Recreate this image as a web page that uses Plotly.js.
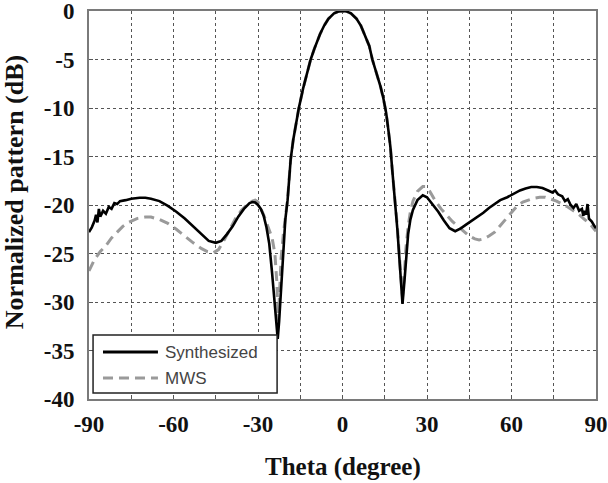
<!DOCTYPE html>
<html>
<head>
<meta charset="utf-8">
<script src="https://cdn.plot.ly/plotly-3.0.1.min.js"></script>
<style>
  html, body { margin: 0; padding: 0; background: #fff; }
  #chart { width: 608px; height: 483px; }
</style>
</head>
<body>
<div id="chart"></div>
<script>
// Synthesized radiation pattern (normalized, dB) versus theta (degrees)
const thetaSynth = [
  -90, -89, -88, -87.5, -87, -86.5, -86, -85, -84, -83, -82, -81, -80, -79, -77, -75,
  -72, -70, -68, -65, -62, -59, -56, -53, -50, -47.5, -45, -43, -41, -39, -37, -35,
  -33, -32, -31, -30, -29, -28, -27, -26, -25, -24, -23.5, -23.0, -22.5, -22, -21.5,
  -21, -20.3, -19.5, -19, -18.4, -17.5, -16.5, -15.5, -14, -12.5, -11.3, -10, -9, -8, -6.5, -5,
  -3, -1.5, 0, 1.5, 3, 5, 6.5, 8, 9.5, 10.6, 12, 13.5, 14.5, 15.5, 16.3, 17, 17.7,
  18.5, 19.5, 20.5, 21.3, 22, 22.5, 23.3, 24.1, 25, 26.6, 28.5, 30, 32, 34, 36, 38,
  40, 42, 44, 46, 48, 50, 52, 54, 56, 58.5, 61, 63, 65, 67, 69, 71, 73, 74.5, 75.5,
  76.5, 78, 79, 80, 81, 82, 83, 84, 85, 85.5, 86, 86.5, 87, 87.5, 88.5, 89.5, 90
];
const synthDb = [
  -22.8, -22.3, -21.6, -21.0, -21.8, -20.4, -21.2, -20.6, -20.9, -20.2, -20.4, -19.8, -19.9, -19.6, -19.5, -19.35,
  -19.25, -19.25, -19.35, -19.6, -20.1, -20.7, -21.4, -22.2, -23.0, -23.7, -23.9, -23.7, -23.0, -22.2, -21.2, -20.4,
  -19.8, -19.7, -19.75, -20.0, -20.4, -21.1, -22.3, -24.0, -27.0, -30.5, -32.5, -33.8, -32, -29.5, -26.5,
  -24.0, -21.5, -19.5, -17.5, -15.3, -13.3, -11.5, -10.0, -8.0, -6.2, -5.0, -3.9, -3.1, -2.4, -1.5, -0.8,
  -0.25, -0.05, 0, -0.05, -0.25, -0.8, -1.5, -2.5, -3.6, -5.0, -6.3, -7.8, -9.0, -10.5, -12.3, -14, -16.5,
  -19, -22.6, -26.8, -30.2, -27.8, -25.5, -23, -21.5, -20.5, -19.5, -19.0, -19.2, -19.9, -20.7, -21.6, -22.4,
  -22.7, -22.4, -22.0, -21.6, -21.2, -20.8, -20.3, -19.9, -19.5, -19.2, -18.8, -18.5, -18.3, -18.15, -18.15, -18.25, -18.5, -18.7, -18.5,
  -18.9, -19.1, -19.6, -19.4, -20.0, -20.3, -19.9, -20.6, -20.4, -21.1, -20.6, -21.0, -19.9, -21.4, -21.7, -22.2, -22.4
];

// Full-wave (MWS) simulated pattern
const thetaMws = [
  -90, -88, -86, -84, -82, -80, -78, -76, -73, -70, -68, -65, -62, -59, -56, -53,
  -50, -48, -46, -44, -42, -40, -38, -36, -34, -32, -31, -30, -29, -28, -27, -26,
  -25, -24, -23.3, -22.8, -22.3, -21.8, -21, -20.3, -19.5, -19, -18.4, -17.5, -16.5, -15.5, -14,
  -12.5, -11.3, -10, -9, -8, -6.5, -5, -3, -1.5, 0, 1.5, 3, 5, 6.5, 8, 9.5, 10.6,
  12, 13.5, 14.5, 15.5, 16.3, 17, 17.7, 18.5, 19.5, 20.5, 21.3, 22, 22.5, 23.3, 24.1,
  25, 26.6, 28.5, 29.5, 31, 33, 35, 37, 39, 41, 43, 45, 47, 48.5, 50, 52, 54, 56, 58,
  60, 62, 64, 66, 68, 70, 72, 74, 76, 78, 80, 82, 84, 86, 88, 90
];
const mwsDb = [
  -26.8, -25.6, -24.8, -24.2, -23.4, -22.8, -22.2, -21.8, -21.4, -21.25, -21.25, -21.5, -21.9, -22.5, -23.2, -23.9,
  -24.5, -24.8, -24.95, -24.6, -23.6, -22.5, -21.4, -20.6, -20.0, -19.6, -19.5, -19.7, -20.3, -21.0, -21.8, -22.7,
  -23.4, -25.0, -28, -32, -29, -25.5, -23.0, -21.3, -19.4, -17.5, -15.3, -13.3, -11.5, -10.0, -8.0,
  -6.2, -5.0, -3.9, -3.1, -2.4, -1.5, -0.8, -0.25, -0.05, 0, -0.05, -0.25, -0.8, -1.5, -2.5, -3.6, -5.0,
  -6.3, -7.8, -9.0, -10.5, -12.3, -14, -16.5, -19, -22.3, -26.5, -29.5, -27, -24.5, -22.2, -20.7,
  -19.6, -18.6, -18.1, -18.1, -18.6, -19.6, -20.4, -21.1, -21.7, -22.2, -22.7, -23.2, -23.5, -23.6, -23.5, -23.2, -22.8, -22.1, -21.4,
  -20.7, -20.1, -19.7, -19.5, -19.3, -19.2, -19.2, -19.4, -19.6, -19.9, -20.2, -20.6, -21.0, -21.5, -22.0, -22.7
];

// Axis ticks: grid every 15 degrees, labels every 30
const xTickVals = [-90, -75, -60, -45, -30, -15, 0, 15, 30, 45, 60, 75, 90];
const xTickText = ['-90', '', '-60', '', '-30', '', '0', '', '30', '', '60', '', '90'];
const yTickVals = [-40, -35, -30, -25, -20, -15, -10, -5, 0];
const yTickText = ['-40', '-35', '-30', '-25', '-20', '-15', '-10', '-5', '0'];

const legendNames = ['Synthesized', 'MWS'];
const xTitle = 'Theta (degree)';
const yTitle = 'Normalized pattern (dB)';

const serif = 'Liberation Serif';
const sans = 'Liberation Sans';

const bold = s => (s ? '<b>' + s + '</b>' : '');

const traces = [
  {
    x: thetaMws, y: mwsDb, type: 'scatter', mode: 'lines', name: legendNames[1],
    line: { color: '#9a9a9a', width: 3, dash: '10px,6px' },
    hoverinfo: 'skip'
  },
  {
    x: thetaSynth, y: synthDb, type: 'scatter', mode: 'lines', name: legendNames[0],
    line: { color: '#000000', width: 2.6 },
    hoverinfo: 'skip'
  }
];

// Hand-placed legend box (paper units of the plot area)
const legendBox = { x0: 0.008, x1: 0.371, y0: 0.0155, y1: 0.165 };
const legendRows = [0.121, 0.054];

function axis(extra) {
  return Object.assign({
    showline: true, mirror: true, linecolor: '#7a7a7a', linewidth: 2,
    showgrid: true, gridcolor: '#555555', gridwidth: 1, griddash: '3px,3px',
    zeroline: false, ticks: 'inside', ticklen: 4, tickcolor: '#555555', tickwidth: 1,
    tickmode: 'array', ticklabeloverflow: 'allow',
    tickfont: { family: serif, size: 23, color: '#111111' }
  }, extra);
}

const layout = {
  width: 608, height: 483,
  margin: { l: 89, r: 12, t: 11, b: 84 },
  paper_bgcolor: '#ffffff', plot_bgcolor: '#ffffff',
  font: { family: serif, size: 23, color: '#111111' },
  showlegend: false,
  xaxis: axis({ range: [-90, 90], tickvals: xTickVals, ticktext: xTickText.map(bold), ticklabelstandoff: 3 }),
  yaxis: axis({ range: [-40, 0], tickvals: yTickVals, ticktext: yTickText.map(bold), ticklabelstandoff: 8 }),
  shapes: [
    { type: 'rect', xref: 'paper', yref: 'paper', x0: legendBox.x0, x1: legendBox.x1, y0: legendBox.y0, y1: legendBox.y1,
      fillcolor: '#ffffff', line: { color: '#222', width: 1.5 }, layer: 'above' },
    { type: 'line', xref: 'paper', yref: 'paper', x0: 0.0276, x1: 0.136, y0: legendRows[0], y1: legendRows[0],
      line: { color: '#000', width: 3 }, layer: 'above' },
    { type: 'line', xref: 'paper', yref: 'paper', x0: 0.0276, x1: 0.136, y0: legendRows[1], y1: legendRows[1],
      line: { color: '#9a9a9a', width: 3, dash: '10px,6px' }, layer: 'above' }
  ],
  annotations: legendNames.map((name, i) => ({
    xref: 'paper', yref: 'paper', x: 0.146, y: legendRows[i], xanchor: 'left', yanchor: 'middle',
    text: name, showarrow: false, font: { family: sans, size: 17, color: '#444' }
  })).concat([
    { xref: 'paper', yref: 'paper', x: 0.5, y: -0.175, xanchor: 'center', yanchor: 'middle',
      text: bold(xTitle), showarrow: false, font: { family: serif, size: 25, color: '#111' } },
    { xref: 'paper', yref: 'paper', x: -0.148, y: 0.533, xanchor: 'center', yanchor: 'middle', textangle: -90,
      text: bold(yTitle), showarrow: false, font: { family: serif, size: 26, color: '#111' } }
  ])
};

Plotly.newPlot('chart', traces, layout, { displayModeBar: false, staticPlot: true });
</script>
</body>
</html>
